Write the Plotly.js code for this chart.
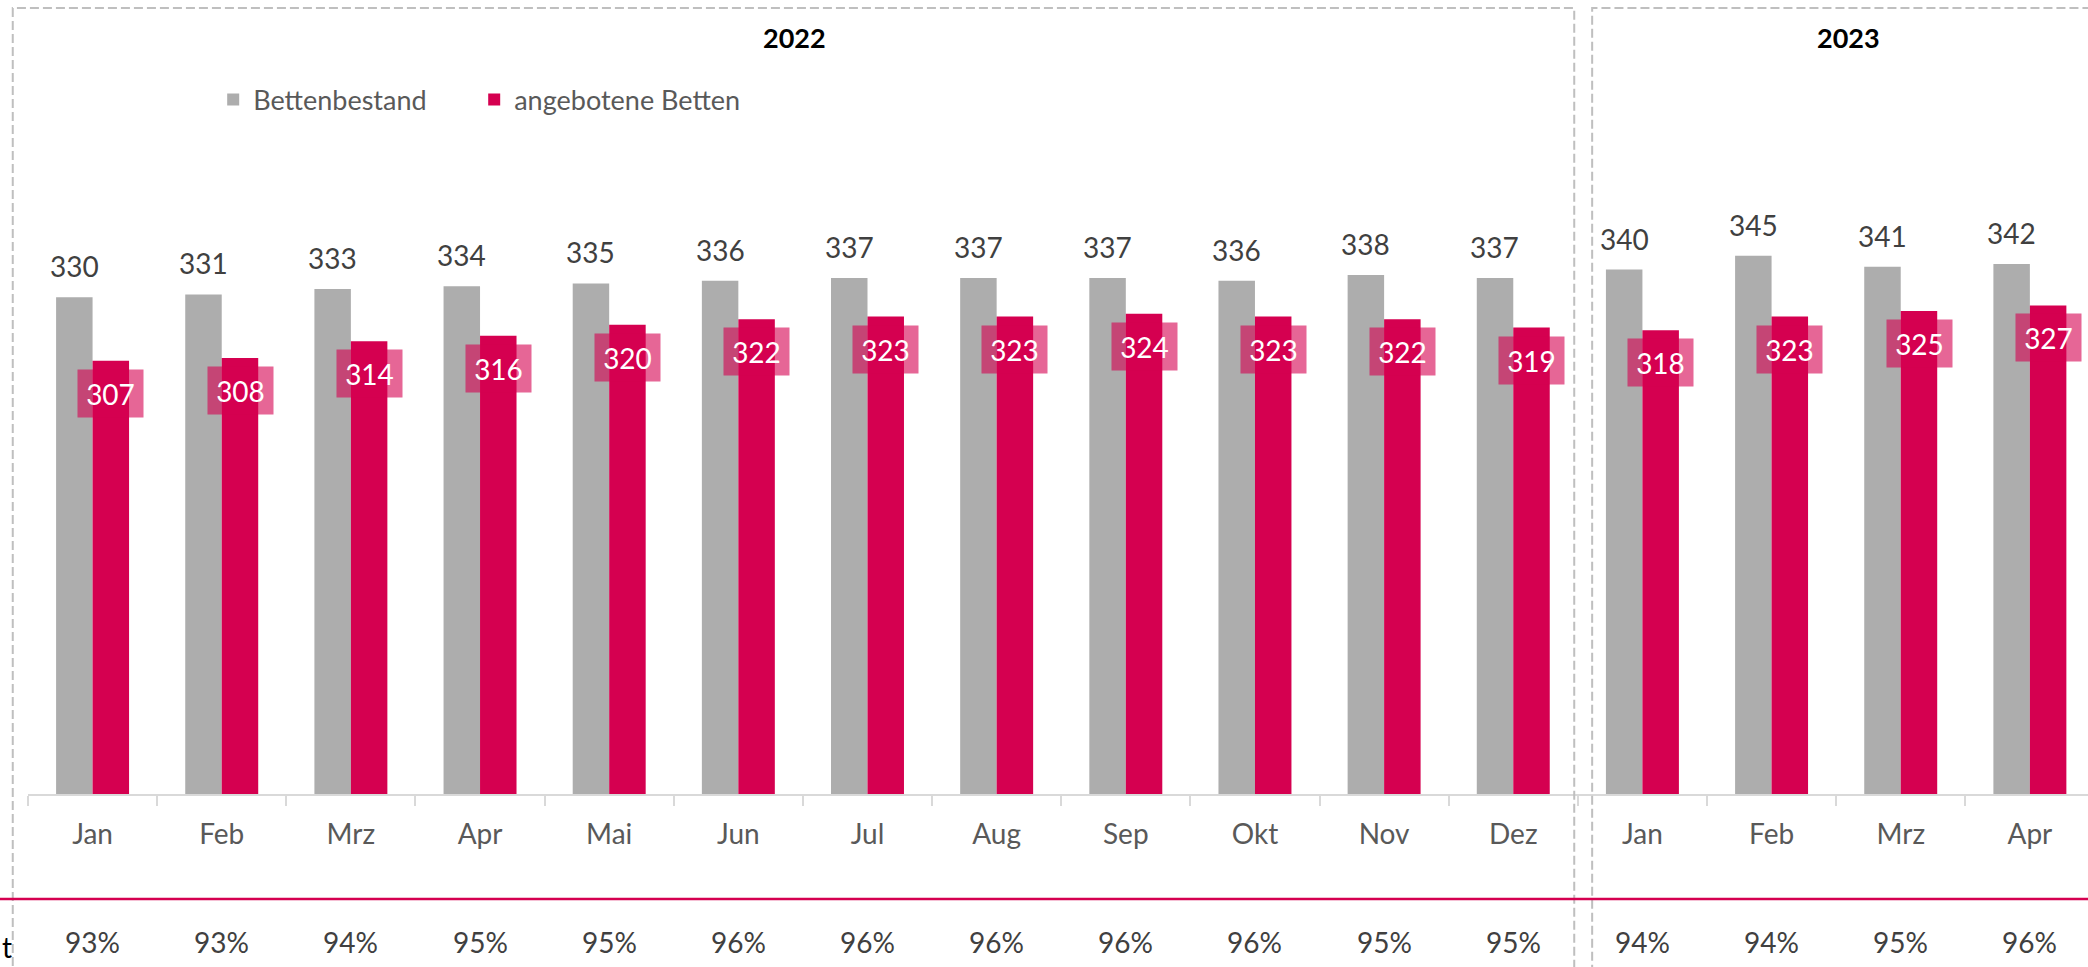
<!DOCTYPE html>
<html>
<head>
<meta charset="utf-8">
<script src="https://cdn.plot.ly/plotly-3.0.1.min.js"></script>
<style>html,body{margin:0;padding:0;background:#fff;overflow:hidden;}#chart{width:2088px;height:967px;}</style>
</head>
<body>
<div id="chart"></div>
<script>
// ---- data ----
const months = ["Jan","Feb","Mrz","Apr","Mai","Jun","Jul","Aug","Sep","Okt","Nov","Dez","Jan","Feb","Mrz","Apr"];
const years = ["2022","2022","2022","2022","2022","2022","2022","2022","2022","2022","2022","2022","2023","2023","2023","2023"];
const bettenbestand = [330,331,333,334,335,336,337,337,337,336,338,337,340,345,341,342];
const angeboteneBetten = [307,308,314,316,320,322,323,323,324,323,322,319,318,323,325,327];
const auslastung = [93,93,94,95,95,96,96,96,96,96,95,95,94,94,95,96];
const yearTitles = ["2022","2023"];
const seriesNames = ["Bettenbestand","angebotene Betten"];

const keys = months.map((m,i)=>m+" "+years[i]);
const FONT = "Lato, 'Noto Sans', sans-serif";
const GRAY = "#ADADAD";
const RED = "#D50050";

const traces = [
  {type:"bar", name:seriesNames[0], x:keys, y:bettenbestand, marker:{color:GRAY}, hoverinfo:"skip", legend:"legend"},
  {type:"bar", name:seriesNames[1], x:keys, y:angeboteneBetten, marker:{color:RED}, hoverinfo:"skip", legend:"legend2"}
];

const annotations = [];
keys.forEach((k,i)=>{
  annotations.push({x:k, y:bettenbestand[i], xref:"x", yref:"y", text:String(bettenbestand[i]),
    showarrow:false, xshift:-18.3, yanchor:"bottom", yshift:12,
    font:{family:FONT, size:28, color:"#404040"}});
  annotations.push({x:k, y:angeboteneBetten[i], xref:"x", yref:"y", text:String(angeboteneBetten[i]),
    showarrow:false, xshift:18.3, yanchor:"top", yshift:-8, width:65, height:47, borderpad:0,
    bgcolor:"rgba(213,0,80,0.6)", font:{family:FONT, size:28, color:"#FFFFFF"}});
  annotations.push({x:k, y:-0.2145, xref:"x", yref:"paper", text:auslastung[i]+"%",
    showarrow:false, yanchor:"middle", font:{family:FONT, size:28, color:"#404040"}});
});
annotations.push({x:0.372, y:1.097, xref:"paper", yref:"paper", text:"<b>"+yearTitles[0]+"</b>",
  showarrow:false, xanchor:"center", yanchor:"middle", font:{family:FONT, size:27, color:"#000"}});
annotations.push({x:0.8835, y:1.097, xref:"paper", yref:"paper", text:"<b>"+yearTitles[1]+"</b>",
  showarrow:false, xanchor:"center", yanchor:"middle", font:{family:FONT, size:27, color:"#000"}});
annotations.push({x:-0.0132, y:-0.222, xref:"paper", yref:"paper", text:"t", xanchor:"left",
  showarrow:false, yanchor:"middle", borderpad:0, font:{family:FONT, size:28, color:"#000"}});

const dashStyle = {color:"#BFBFBF", width:2, dash:"9px,4px"};
const shapes = [
  {type:"rect", xref:"paper", yref:"paper", x0:-0.0074, x1:0.7506, y0:-0.27, y1:1.139, line:dashStyle},
  {type:"rect", xref:"paper", yref:"paper", x0:0.7593, x1:1.02, y0:-0.27, y1:1.139, line:dashStyle},
  {type:"line", xref:"paper", yref:"paper", x0:-0.02, x1:1.02, y0:-0.152, y1:-0.152, line:{color:RED, width:2.5}}
];

const legendBase = {orientation:"h", y:1.006, xanchor:"left", yanchor:"middle",
  font:{family:FONT, size:27, color:"#595959"}, bgcolor:"rgba(0,0,0,0)"};

const layout = {
  width:2088, height:967,
  margin:{l:28, r:0, t:104, b:173},
  paper_bgcolor:"#fff", plot_bgcolor:"#fff",
  barmode:"group", bargap:0.435, bargroupgap:0,
  showlegend:true,
  legend:Object.assign({x:0.0899}, legendBase),
  legend2:Object.assign({x:0.2166}, legendBase),
  xaxis:{type:"category", range:[-0.5,15.45], tickmode:"array", tickvals:keys, ticktext:months,
    tickson:"boundaries", ticks:"outside", ticklen:10, tickwidth:2, tickcolor:"#D9D9D9",
    showline:true, linecolor:"#D9D9D9", linewidth:2, showgrid:false, zeroline:false,
    ticklabelstandoff:14,
    tickfont:{family:FONT, size:28, color:"#595959"}, fixedrange:true},
  yaxis:{range:[150,400], visible:false, showgrid:false, zeroline:false, fixedrange:true},
  annotations:annotations,
  shapes:shapes,
  font:{family:FONT}
};

Plotly.newPlot("chart", traces, layout, {displayModeBar:false, staticPlot:true});
</script>
</body>
</html>
